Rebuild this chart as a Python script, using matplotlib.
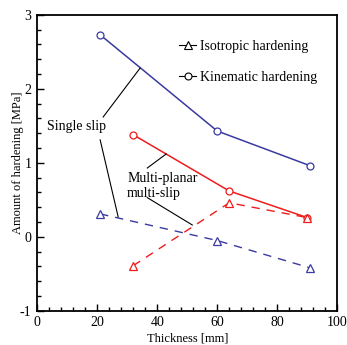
import matplotlib
matplotlib.use('Agg')
import matplotlib.pyplot as plt
from matplotlib.lines import Line2D
from matplotlib.ticker import MultipleLocator

plt.rcParams['font.family'] = ['Liberation Serif', 'DejaVu Serif']
plt.rcParams['axes.unicode_minus'] = False

# single slip (blue)
single_x = [21, 60, 91]
single_kin = [2.73, 1.43, 0.96]
single_iso = [0.31, -0.05, -0.42]

# multi-planar multi-slip (red)
multi_x = [32, 64, 90]
multi_kin = [1.38, 0.62, 0.26]
multi_iso = [-0.39, 0.46, 0.26]

blue = '#3a3aa0'
red = '#ee1c1c'

fig = plt.figure(figsize=(3.47, 3.45), dpi=100)
ax = fig.add_axes([0.107, 0.099, 0.865, 0.858])

ms = 5
ax.plot(single_x, single_kin, '-o', color=blue, lw=1.1, ms=ms, mfc='white', mec=blue, mew=0.9)
ax.plot(single_x, single_iso, '^', color=blue, ls=(0, (6, 5)), lw=1.0, ms=ms + 0.5, mfc='white', mec=blue, mew=0.9)
ax.plot(multi_x, multi_kin, '-o', color=red, lw=1.1, ms=ms, mfc='white', mec=red, mew=0.9)
ax.plot(multi_x, multi_iso, '^', color=red, ls=(0, (6, 5)), lw=1.0, ms=ms + 0.5, mfc='white', mec=red, mew=0.9)

ax.set_xlim(0, 100)
ax.set_ylim(-1, 3)
ax.xaxis.set_major_locator(MultipleLocator(20))
ax.xaxis.set_minor_locator(MultipleLocator(4))
ax.yaxis.set_major_locator(MultipleLocator(1))
ax.yaxis.set_minor_locator(MultipleLocator(0.2))
ax.tick_params(which='both', direction='in', labelsize=10, pad=4)
ax.tick_params(which='major', length=5, width=1)
ax.tick_params(which='minor', length=3, width=1)
for s in ax.spines.values():
    s.set_linewidth(1.3)

ax.set_xlabel('Thickness [mm]', fontsize=9, labelpad=2)
ax.set_ylabel('Amount of hardening [MPa]', fontsize=9, labelpad=-3)

# annotations
ax.text(13, 1.49, 'Single slip', fontsize=10, ha='center', va='center')
ax.plot([22, 34.3], [1.62, 2.28], color='black', lw=0.8)
ax.plot([21, 27], [1.31, 0.27], color='black', lw=0.8)
ax.text(30, 0.69, 'Multi-planar\nmulti-slip', fontsize=10, ha='left', va='center', linespacing=1.2)
ax.plot([36.7, 43], [0.93, 1.12], color='black', lw=0.8)
ax.plot([36.7, 51.7], [0.53, 0.16], color='black', lw=0.8)

handles = [
    Line2D([], [], color='black', lw=0.8, marker='^', ms=ms + 0.5, mfc='white', mec='black', mew=0.8),
    Line2D([], [], color='black', lw=0.8, marker='o', ms=ms, mfc='white', mec='black', mew=0.8),
]
ax.legend(handles, ['Isotropic hardening', 'Kinematic hardening'], loc='upper left',
          bbox_to_anchor=(0.455, 0.933), frameon=False, fontsize=10, handlelength=1.2,
          handletextpad=0.3, labelspacing=1.3, borderaxespad=0)

fig.savefig('out.png', dpi=100)
